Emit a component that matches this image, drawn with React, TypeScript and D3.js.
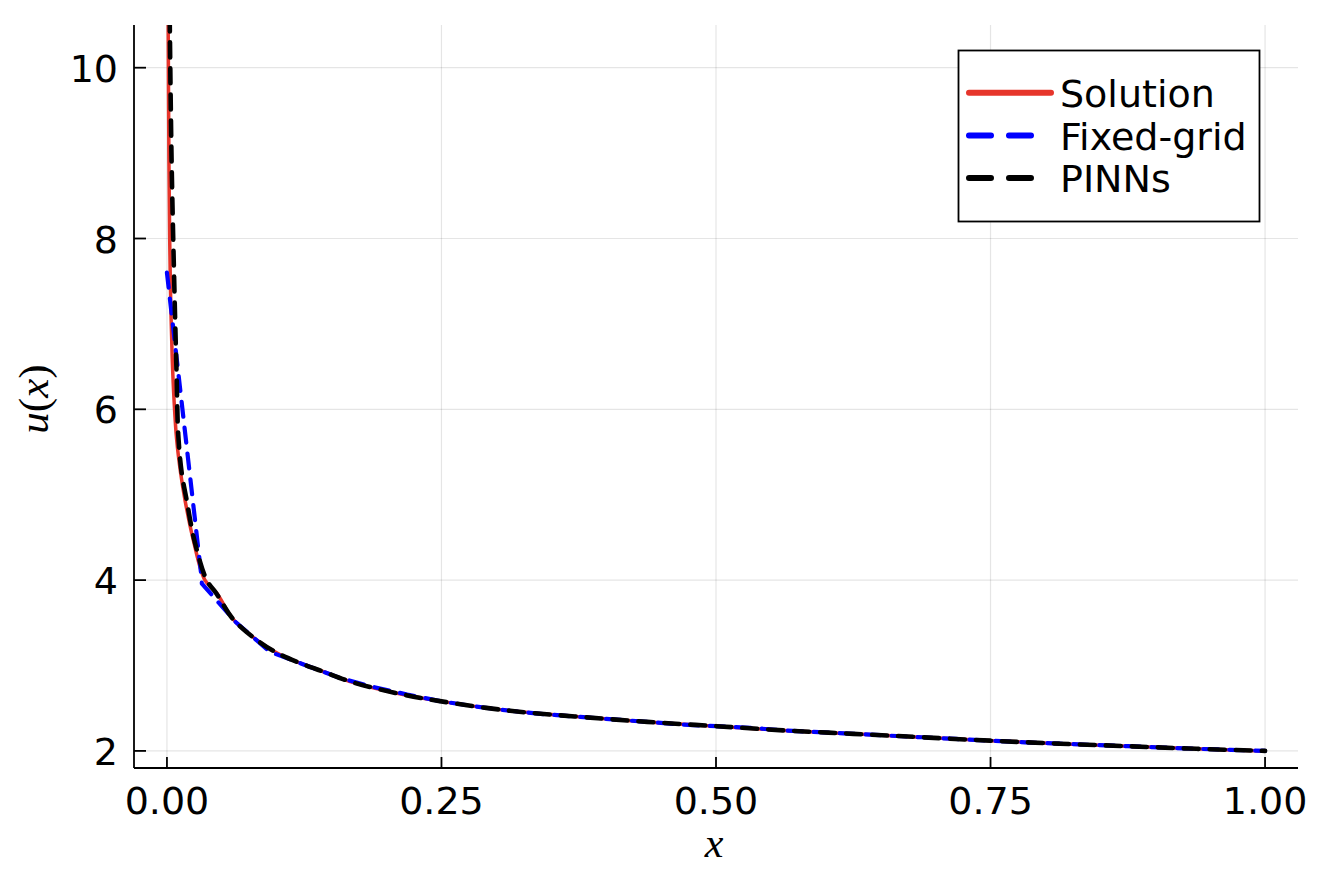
import React from "react";
import * as d3 from "d3";

// ---- data ----
const solX = [0.0011, 0.0018, 0.0025, 0.0034, 0.0048, 0.0065, 0.0088, 0.0125, 0.0164, 0.024, 0.0346, 0.0452, 0.0604, 0.0817, 0.0999, 0.121, 0.142, 0.17, 0.215, 0.25, 0.3125, 0.375, 0.4375, 0.5, 0.5625, 0.625, 0.6875, 0.75, 0.8125, 0.875, 0.9375, 1.0];
const solU = [10.6, 8.93, 8.0, 7.29, 6.6, 6.1, 5.65, 5.25, 4.94, 4.47, 4.0, 3.85, 3.54, 3.3, 3.15, 3.03, 2.93, 2.8, 2.66, 2.58, 2.47, 2.4, 2.34, 2.29, 2.24, 2.2, 2.16, 2.12, 2.085, 2.055, 2.025, 2.0];

const fixedX = [0, 0.03125, 0.0318, 0.0625, 0.09375, 0.125, 0.15625, 0.1875, 0.21875, 0.25, 0.28125, 0.3125, 0.34375, 0.375, 0.40625, 0.4375, 0.46875, 0.5, 0.53125, 0.5625, 0.59375, 0.625, 0.65625, 0.6875, 0.71875, 0.75, 0.78125, 0.8125, 0.84375, 0.875, 0.90625, 0.9375, 0.96875, 1.0];
const fixedU = [7.6, 4.06, 3.96, 3.51, 3.16, 3.01, 2.86, 2.75, 2.66, 2.58, 2.52, 2.47, 2.43, 2.4, 2.37, 2.34, 2.31, 2.29, 2.27, 2.24, 2.22, 2.2, 2.18, 2.16, 2.14, 2.12, 2.1, 2.085, 2.07, 2.055, 2.04, 2.025, 2.013, 2.0];

const pinnX = [0.0025, 0.0042, 0.007, 0.0088, 0.0103, 0.0135, 0.0179, 0.0249, 0.0362, 0.0452, 0.0604, 0.0817, 0.0999, 0.121, 0.142, 0.17, 0.215, 0.25, 0.3125, 0.375, 0.4375, 0.5, 0.5625, 0.625, 0.6875, 0.75, 0.8125, 0.875, 0.9375, 1.0];
const pinnU = [10.6, 8.93, 7.29, 6.4, 5.7, 5.25, 4.94, 4.47, 4.0, 3.84, 3.54, 3.3, 3.15, 3.03, 2.93, 2.8, 2.66, 2.58, 2.47, 2.4, 2.34, 2.29, 2.24, 2.2, 2.16, 2.12, 2.085, 2.055, 2.025, 2.0];

const xTicks = [0, 0.25, 0.5, 0.75, 1.0];
const xTickLabels = ["0.00", "0.25", "0.50", "0.75", "1.00"];
const yTicks = [2, 4, 6, 8, 10];
const yTickLabels = ["2", "4", "6", "8", "10"];
const legendLabels = ["Solution", "Fixed-grid", "PINNs"];

const W = 1324;
const H = 874;
const L = 134, R = 1298, T = 25, B = 768;

export default function App() {
  const x = d3.scaleLinear().domain([-0.03, 1.03]).range([L, R]);
  const y = d3.scaleLinear().domain([1.8, 10.5]).range([B, T]);
  const line = (xs: number[], us: number[], curve: any) =>
    d3.line<number>()
      .x((_, i) => x(xs[i]))
      .y((_, i) => y(us[i]))
      .curve(curve)(xs) || "";

  const red = "#e6352b";
  const font = "DejaVu Sans";
  const fs = 38;
  const smooth = d3.curveCatmullRom.alpha(0.5);

  const series = [
    { color: red, dash: undefined as string | undefined, lw: 3.5, lgDash: undefined as string | undefined },
    { color: "#0000ff", dash: "15 11", lw: 4.2, lgDash: "22 18" },
    { color: "#000000", dash: "15 11", lw: 4.6, lgDash: "22 18" },
  ];

  const lgX0 = 969, lgX1 = 1051, lgY = [92.7, 135.5, 178];

  return (
    <svg width={W} height={H} style={{ position: "absolute", left: 0, top: 0, background: "#fff" }}>
      <defs>
        <clipPath id="plotclip">
          <rect x={L} y={T} width={R - L} height={B - T} />
        </clipPath>
      </defs>
      <rect x={0} y={0} width={W} height={H} fill="#fff" />
      {/* grid */}
      <g stroke="#000" strokeOpacity={0.1} strokeWidth={1.2}>
        {xTicks.map((t) => (
          <line key={"gx" + t} x1={x(t)} x2={x(t)} y1={T} y2={B} />
        ))}
        {yTicks.map((t) => (
          <line key={"gy" + t} x1={L} x2={R} y1={y(t)} y2={y(t)} />
        ))}
      </g>
      {/* series */}
      <g clipPath="url(#plotclip)" fill="none" strokeLinejoin="round">
        <path d={line(solX, solU, smooth)} stroke={series[0].color} strokeWidth={series[0].lw} />
        <path d={line(fixedX, fixedU, d3.curveLinear)} stroke={series[1].color} strokeWidth={series[1].lw} strokeDasharray={series[1].dash} strokeLinecap="round" />
        <path d={line(pinnX, pinnU, smooth)} stroke={series[2].color} strokeWidth={series[2].lw} strokeDasharray={series[2].dash} strokeLinecap="round" />
      </g>
      {/* axes */}
      <g stroke="#000" strokeWidth={1.8}>
        <line x1={L} x2={L} y1={T} y2={B} />
        <line x1={L} x2={R} y1={B} y2={B} />
        {xTicks.map((t) => (
          <line key={"tx" + t} x1={x(t)} x2={x(t)} y1={B} y2={B - 11} />
        ))}
        {yTicks.map((t) => (
          <line key={"ty" + t} x1={L} x2={L + 12} y1={y(t)} y2={y(t)} />
        ))}
      </g>
      <g fontFamily={font} fontSize={fs} fill="#000">
        {xTicks.map((t, i) => (
          <text key={"lx" + t} x={x(t)} y={814} textAnchor="middle">{xTickLabels[i]}</text>
        ))}
        {yTicks.map((t, i) => (
          <text key={"ly" + t} x={118} y={y(t) + 14} textAnchor="end">{yTickLabels[i]}</text>
        ))}
      </g>
      {/* axis labels */}
      <text x={714} y={857} textAnchor="middle" fontFamily="Liberation Serif" fontStyle="italic" fontSize={42}>x</text>
      <text transform="translate(48,399) rotate(-90)" textAnchor="middle" fontFamily="Liberation Serif" fontSize={43}>
        <tspan fontStyle="italic">u</tspan>(<tspan fontStyle="italic">x</tspan>)
      </text>
      {/* legend */}
      <rect x={958.5} y={50.5} width={301} height={171} fill="#fff" stroke="#000" strokeWidth={1.8} />
      {legendLabels.map((lab, i) => (
        <g key={lab}>
          <line x1={lgX0} x2={series[i].lgDash ? lgX1 - 8 : lgX1} y1={lgY[i]} y2={lgY[i]} stroke={series[i].color} strokeWidth={6} strokeLinecap="round" strokeDasharray={series[i].lgDash} />
          <text x={1060} y={lgY[i] + 14} fontFamily={font} fontSize={fs}>{lab}</text>
        </g>
      ))}
    </svg>
  );
}
